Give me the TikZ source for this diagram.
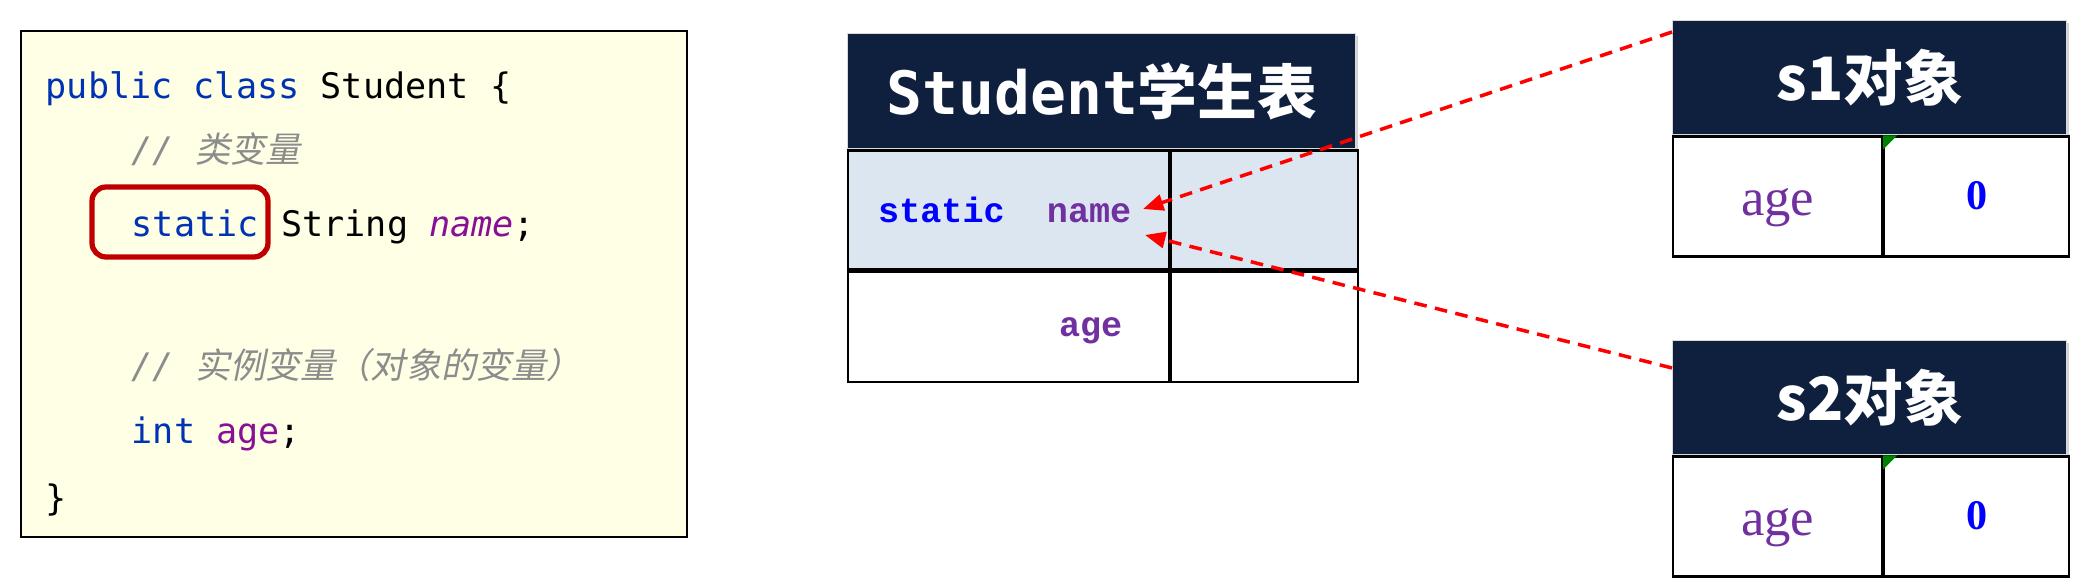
\documentclass[tikz,border=0pt]{standalone}
\usepackage{fontspec}
\usepackage{tikz}
\usetikzlibrary{arrows.meta, positioning, calc, shadows}
\usepackage{xcolor}
\setmonofont{DejaVu Sans Mono}
\newfontfamily\cjkfont{Noto Sans CJK SC}
\newfontfamily\cjkslant[FakeSlant=0.2]{Noto Sans CJK SC}
\newfontfamily\cellmono{Liberation Mono}
\newfontfamily\cellserif{Liberation Serif}
\definecolor{codebg}{RGB}{255,255,230}
\definecolor{kwblue}{RGB}{0,51,179}
\definecolor{fieldpurple}{RGB}{135,16,148}
\definecolor{commentgray}{RGB}{140,140,140}
\definecolor{navy}{RGB}{15,32,62}
\definecolor{rowblue}{RGB}{220,230,241}
\definecolor{cellblue}{RGB}{0,0,255}
\definecolor{cellpurple}{RGB}{112,48,160}
\definecolor{darkred}{RGB}{192,0,0}
\definecolor{flaggreen}{RGB}{0,128,0}

\begin{document}
\begin{tikzpicture}[
        codebox/.style={rectangle, draw=black, fill=codebg, line width=0.6pt, minimum width=6.66cm, minimum height=5.06cm},
        code/.style={anchor=base west, inner sep=0pt, font=\ttfamily},
        comment/.style={code, text=commentgray, font=\ttfamily\itshape},
        hlbox/.style={draw=darkred, line width=1.5pt, rounded corners=4pt},
        header/.style={rectangle, fill=navy, draw=gray!30, line width=0.4pt, inner sep=0pt, text=white, anchor=north west},
        cell/.style={rectangle, draw=black, line width=0.6pt, inner sep=0pt, fill=white, anchor=north west},
        tableshadow/.style={fill=white, drop shadow={shadow xshift=0.8pt, shadow yshift=-0.8pt, opacity=0.35}},
        keytext/.style={inner sep=0pt, anchor=base, text=cellpurple, font=\cellserif\fontsize{15}{18}\selectfont},
        valtext/.style={inner sep=0pt, anchor=base, text=cellblue, font=\cellserif\bfseries\fontsize{12}{14}\selectfont},
        link/.style={draw=red, line width=1pt, dash pattern=on 3.6pt off 2.4pt, -{Triangle[length=5.8pt, width=4.6pt]}}
    ]
    \useasboundingbox (0,0) rectangle (20.91,-5.84);

    % code listing
    \node[codebox] (codebox) at (3.54,-2.84) {};
    \node[code] (line1) at (0.45,-0.99) {\textcolor{kwblue}{public class} Student \{};
    \node[comment] (line2) at (1.31,-1.63) {// \cjkslant 类变量};
    \node[code] (kwstatic) at (1.31,-2.37) {\textcolor{kwblue}{static}};
    \node[code] (line3) at (kwstatic.base east) {\ String \textcolor{fieldpurple}{\itshape name};};
    \node[comment] (line4) at (1.31,-3.79) {// \cjkslant 实例变量（对象的变量）};
    \node[code] (line5) at (1.31,-4.44) {\textcolor{kwblue}{int} \textcolor{fieldpurple}{age};};
    \node[code] (line6) at (0.45,-5.11) {\}};
    \draw[hlbox] (0.92,-1.87) rectangle (2.68,-2.57);

    % Student table
    \path[tableshadow] (8.47,-0.33) rectangle (13.55,-3.77);
    \node[header, minimum width=5.08cm, minimum height=1.15cm] (sthead) at (8.47,-0.33) {\fontsize{17}{20}\selectfont\ttfamily\bfseries Student\cjkfont 学生表};
    \node[cell, fill=rowblue, minimum width=3.21cm, minimum height=1.19cm] (stkey1) at (sthead.south west) {};
    \node[cell, fill=rowblue, minimum width=1.87cm, minimum height=1.19cm] (stval1) at (stkey1.north east) {};
    \node[cell, minimum width=3.21cm, minimum height=1.10cm] (stkey2) at (stkey1.south west) {};
    \node[cell, minimum width=1.87cm, minimum height=1.10cm] (stval2) at (stkey2.north east) {};
    \node[inner sep=0pt, anchor=base east, font=\cellmono\bfseries] (stname) at (11.32,-2.23) {\textcolor{cellblue}{static}\ \ \textcolor{cellpurple}{name}};
    \node[inner sep=0pt, anchor=base east, font=\cellmono\bfseries, text=cellpurple] (stage) at (11.23,-3.37) {age};

    % s1 object
    \path[tableshadow] (16.72,-0.20) rectangle (20.66,-2.54);
    \node[header, minimum width=3.94cm, minimum height=1.14cm] (s1head) at (16.72,-0.20) {\fontsize{17}{20}\selectfont\cjkfont\bfseries s1对象};
    \node[cell, minimum width=2.09cm, minimum height=1.20cm] (s1key) at (s1head.south west) {};
    \node[cell, minimum width=1.85cm, minimum height=1.20cm] (s1val) at (s1key.north east) {};
    \fill[flaggreen] (s1val.north west) -- ++(0.14,0) -- ++(-0.14,-0.14) -- cycle;
    \node[keytext] (s1age) at ($(s1key.center)+(0,-0.19)$) {age};
    \node[valtext] (s1zero) at ($(s1val.center)+(0,-0.13)$) {0};

    % s2 object
    \path[tableshadow] (16.72,-3.40) rectangle (20.66,-5.74);
    \node[header, minimum width=3.94cm, minimum height=1.14cm] (s2head) at (16.72,-3.40) {\fontsize{17}{20}\selectfont\cjkfont\bfseries s2对象};
    \node[cell, minimum width=2.09cm, minimum height=1.20cm] (s2key) at (s2head.south west) {};
    \node[cell, minimum width=1.85cm, minimum height=1.20cm] (s2val) at (s2key.north east) {};
    \fill[flaggreen] (s2val.north west) -- ++(0.14,0) -- ++(-0.14,-0.14) -- cycle;
    \node[keytext] (s2age) at ($(s2key.center)+(0,-0.19)$) {age};
    \node[valtext] (s2zero) at ($(s2val.center)+(0,-0.13)$) {0};

    % links to the static field
    \coordinate (s1in) at ($(s1head.north west)+(0,-0.12)$);
    \coordinate (s2in) at ($(s2head.north west)+(0,-0.28)$);
    \draw[link] (s1in) -- ($(stname.base east)+(0.11,0.14)$);
    \draw[link] (s2in) -- ($(stname.base east)+(0.13,-0.12)$);
\end{tikzpicture}
\end{document}
